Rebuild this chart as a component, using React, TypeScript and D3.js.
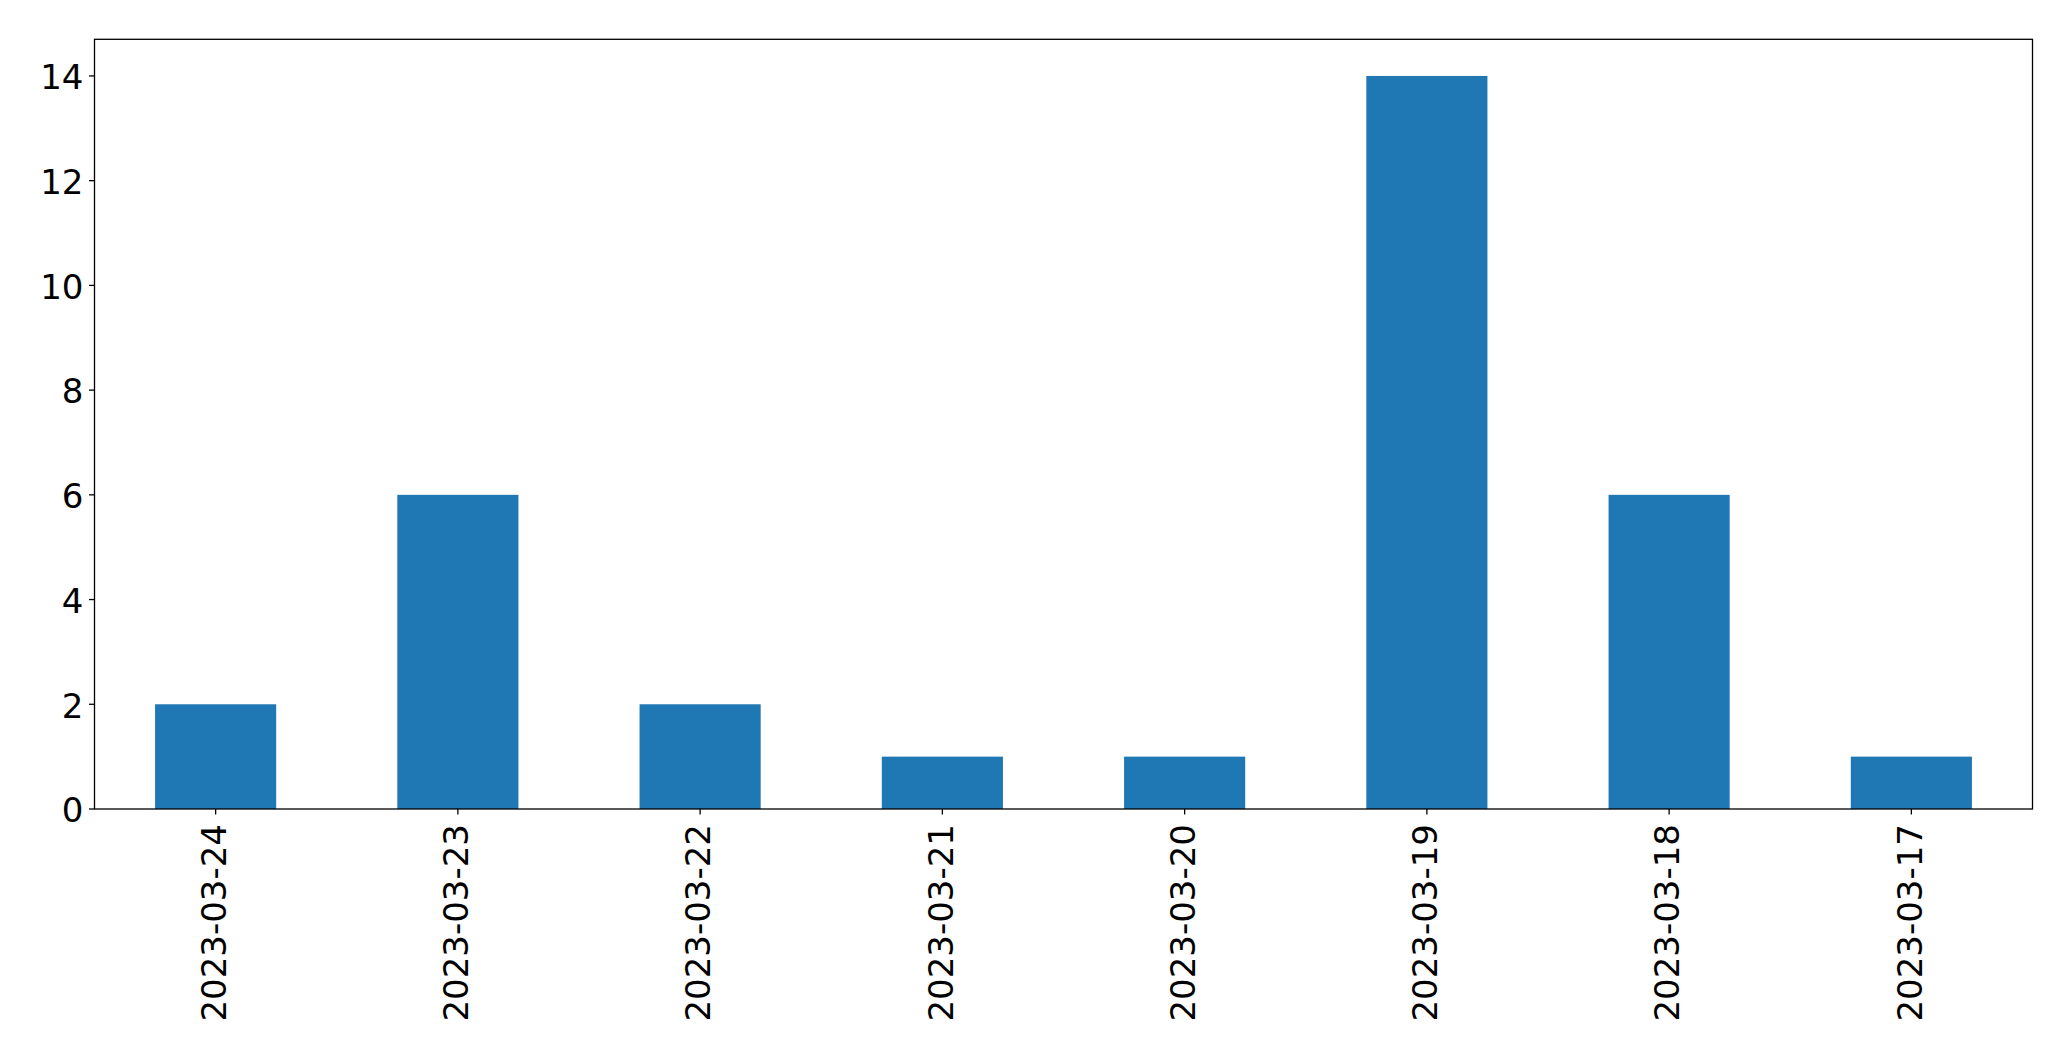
import React from "react";
import * as d3 from "d3";

const categories = ["2023-03-24", "2023-03-23", "2023-03-22", "2023-03-21", "2023-03-20", "2023-03-19", "2023-03-18", "2023-03-17"];
const values = [2, 6, 2, 1, 1, 14, 6, 1];
const yTicks = [0, 2, 4, 6, 8, 10, 12, 14];

const W = 2071;
const H = 1061;
const left = 94.5;
const right = 2032.5;
const top = 39.3;
const bottom = 809;
const FONT = "'DejaVu Sans', sans-serif";
const FS = 34;

export default function App() {
  const x = d3.scaleLinear().domain([-0.5, categories.length - 0.5]).range([left, right]);
  const y = d3.scaleLinear().domain([0, 14.7]).range([bottom, top]);
  const bw = x(0.25) - x(-0.25);
  return (
    <svg width={W} height={H} style={{ position: "absolute", left: 0, top: 0, display: "block", background: "#fff" }}>
      {values.map((v, i) => (
        <rect key={i} x={x(i) - bw / 2} y={y(v)} width={bw} height={y(0) - y(v)} fill="#1f77b4" />
      ))}
      <rect x={left} y={top} width={right - left} height={bottom - top} fill="none" stroke="#000" strokeWidth={1.3} />
      {yTicks.map((t) => (
        <g key={t}>
          <line x1={left - 5.5} x2={left} y1={y(t)} y2={y(t)} stroke="#000" strokeWidth={1.3} />
          <text x={left - 11} y={y(t)} dy="0.39em" textAnchor="end" fontFamily={FONT} fontSize={FS} fill="#000">{t}</text>
        </g>
      ))}
      {categories.map((c, i) => (
        <g key={c}>
          <line x1={x(i)} x2={x(i)} y1={bottom} y2={bottom + 5.5} stroke="#000" strokeWidth={1.3} />
          <text transform={`translate(${x(i) - 2},${bottom + 15}) rotate(-90)`} dy="0.36em" textAnchor="end" fontFamily={FONT} fontSize={FS} fill="#000">{c}</text>
        </g>
      ))}
    </svg>
  );
}
